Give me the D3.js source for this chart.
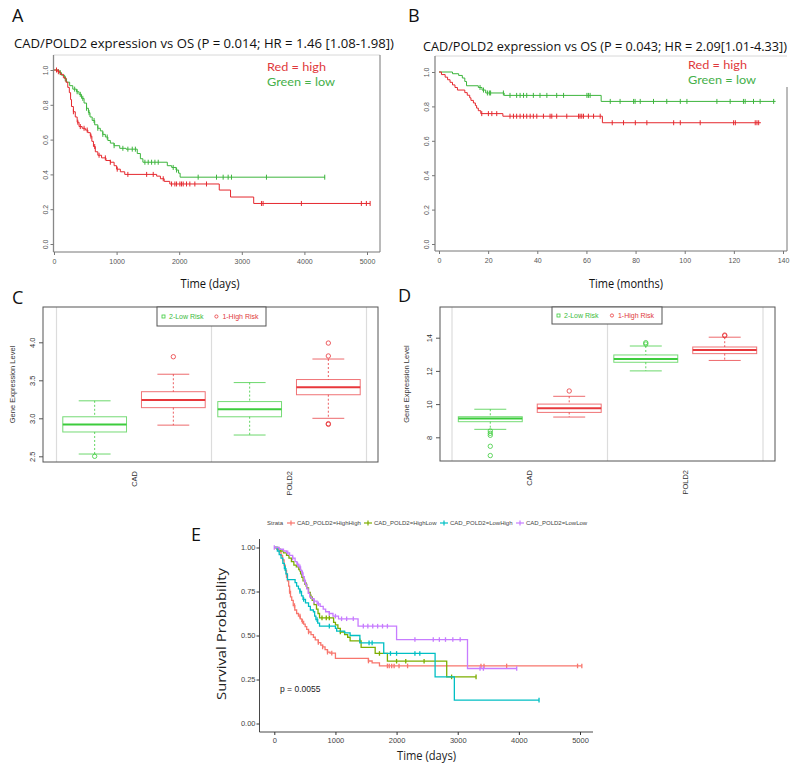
<!DOCTYPE html>
<html><head><meta charset="utf-8">
<script src="https://cdn.jsdelivr.net/npm/d3@7"></script>
<style>body{margin:0;background:#fff}svg{display:block}</style>
</head><body>
<svg id="c" width="800" height="774"></svg>
<script>
// ---------------- DATA ----------------
// Panel A: Kaplan-Meier, time in days: [time, survival after step]
const aHighSteps = [[0,1],[60,0.99],[100,0.975],[150,0.955],[190,0.93],[220,0.9],[245,0.87],[265,0.83],[280,0.79],[310,0.76],[340,0.73],[370,0.7],[400,0.675],[450,0.665],[500,0.655],[540,0.64],[580,0.62],[605,0.59],[630,0.56],[660,0.53],[700,0.51],[760,0.495],[830,0.48],[900,0.47],[960,0.45],[1000,0.43],[1060,0.415],[1130,0.40],[1640,0.39],[1700,0.375],[1760,0.36],[1850,0.345],[2640,0.31],[2820,0.27],[3190,0.233]];
const aHighEnd = 5050;
const aHighCensor = [40,70,310,380,420,480,530,590,650,720,820,900,1010,1180,1480,1585,1745,1878,1931,1958,2011,2037,2064,2117,2170,2250,2436,3314,3340,3952,4910,4990,5050];
const aLowSteps = [[0,1],[80,0.985],[120,0.97],[170,0.95],[200,0.93],[250,0.91],[300,0.89],[360,0.875],[400,0.86],[440,0.837],[480,0.81],[520,0.78],[550,0.755],[575,0.73],[610,0.71],[650,0.685],[700,0.665],[740,0.65],[780,0.63],[820,0.615],[860,0.595],[900,0.58],[960,0.565],[1050,0.55],[1150,0.545],[1330,0.52],[1380,0.49],[1420,0.47],[1810,0.45],[1880,0.44],[1950,0.425],[1990,0.407],[2015,0.384]];
const aLowEnd = 4330;
const aLowCensor = [100,180,330,370,420,460,520,560,640,700,780,850,960,1100,1180,1250,1300,1452,1505,1559,1612,1665,1904,1958,2303,2596,2702,2782,2835,3394,4325];
const aXTicks = [0,1000,2000,3000,4000,5000];
const survTicks = [0,0.2,0.4,0.6,0.8,1.0];

// Panel B: time in months
const bHighSteps = [[0,1],[1,0.985],[2.5,0.97],[3.5,0.955],[4.5,0.94],[5.5,0.925],[6.5,0.91],[7.5,0.895],[10.5,0.88],[11.5,0.865],[12.5,0.85],[13,0.835],[14,0.82],[14.8,0.805],[15.3,0.79],[16,0.775],[17,0.758],[26,0.743],[66.5,0.705]];
const bHighEnd = 131;
const bHighCensor = [17.4,20.1,21.5,23.5,28.9,30.3,31.6,33,34.4,35.7,37.1,38.4,39.8,42.5,45.2,45.9,47.9,52,56.8,57.4,58.1,58.8,60.8,62.9,65.6,70.5,75.1,79.9,84.6,95.5,98.2,106.3,119.9,120.6,128.7,129.4,130.1];
const bLowSteps = [[0,1],[5.5,0.99],[8,0.98],[9.5,0.965],[10.5,0.945],[11.2,0.92],[16,0.91],[17.5,0.895],[19,0.878],[26.5,0.864],[66,0.829]];
const bLowEnd = 137;
const bLowCensor = [16.7,18.1,19.7,20.5,21,26.2,28.9,31.6,33,34.4,35.7,38.4,41.1,43.9,47.9,50.7,60.2,60.8,61.5,69.7,73.7,79.2,79.8,81.9,87.3,92.7,98.2,100.9,113.1,118.5,123.9,124.6,128,130.7,136.2];
const bXTicks = [0,20,40,60,80,100,120,140];

// Panels C and D: boxplots
const genes = ["CAD","POLD2"];
const riskGroups = ["2-Low Risk","1-High Risk"];
const cLow  = [{min:2.53,q1:2.82,med:2.92,q3:3.02,max:3.23,out:[2.50]},{min:2.78,q1:3.02,med:3.12,q3:3.22,max:3.47,out:[]}];
const cHigh = [{min:2.91,q1:3.14,med:3.24,q3:3.35,max:3.58,out:[3.81]},{min:3.00,q1:3.31,med:3.41,q3:3.51,max:3.78,out:[3.99,3.82,2.92,2.93]}];
const cYTicks = [2.5,3.0,3.5,4.0];
const dLow  = [{min:8.48,q1:8.94,med:9.14,q3:9.24,max:9.69,out:[8.38,8.24,8.12,7.46,6.9]},{min:12.0,q1:12.52,med:12.72,q3:12.96,max:13.5,out:[13.7,13.62]}];
const dHigh = [{min:9.22,q1:9.5,med:9.75,q3:10.0,max:10.47,out:[10.79]},{min:12.63,q1:13.04,med:13.26,q3:13.44,max:14.03,out:[14.16,14.12]}];
const dYTicks = [8,10,12,14];

// Panel E: four strata
const eStrata = ["CAD_POLD2=HighHigh","CAD_POLD2=HighLow","CAD_POLD2=LowHigh","CAD_POLD2=LowLow"];
const eHHSteps = [[0,1],[40,0.99],[80,0.975],[110,0.955],[135,0.93],[160,0.9],[180,0.87],[200,0.84],[215,0.81],[235,0.78],[250,0.75],[265,0.72],[285,0.7],[310,0.67],[335,0.645],[365,0.625],[395,0.61],[425,0.595],[450,0.58],[480,0.565],[505,0.55],[530,0.535],[560,0.52],[600,0.505],[640,0.49],[670,0.475],[720,0.46],[760,0.445],[790,0.435],[830,0.42],[870,0.405],[910,0.4],[1000,0.37],[1540,0.355],[1600,0.345],[1720,0.327]];
const eHHEnd = 5030;
const eHHCensor = [200,250,330,420,460,560,720,790,870,940,1540,1850,1880,1920,1960,2040,2180,3380,3430,3800,4960,5030];
const eHLSteps = [[0,1],[60,0.99],[100,0.98],[150,0.97],[200,0.955],[240,0.94],[280,0.92],[320,0.9],[360,0.89],[400,0.875],[430,0.85],[450,0.83],[470,0.81],[500,0.79],[530,0.77],[560,0.745],[590,0.72],[620,0.7],[650,0.675],[690,0.65],[715,0.625],[740,0.6],[970,0.575],[1000,0.56],[1040,0.54],[1080,0.52],[1150,0.505],[1200,0.49],[1240,0.47],[1420,0.432],[1650,0.398],[1850,0.354],[2820,0.265]];
const eHLEnd = 3300;
const eHLCensor = [420,520,600,780,850,900,1080,1400,1720,2000,2150,2450,2900,3300];
const eLHSteps = [[0,1],[50,0.98],[80,0.96],[110,0.94],[140,0.91],[165,0.88],[190,0.85],[215,0.817],[340,0.8],[365,0.78],[395,0.765],[420,0.75],[445,0.725],[470,0.705],[510,0.685],[560,0.665],[590,0.645],[640,0.635],[660,0.61],[680,0.59],[710,0.57],[740,0.553],[1000,0.54],[1020,0.525],[1150,0.515],[1240,0.5],[1400,0.458],[1790,0.398],[2630,0.265],[2945,0.133]];
const eLHEnd = 4330;
const eLHCensor = [180,420,480,700,900,1550,1600,1900,2000,2300,2380,4330];
const eLLSteps = [[0,1],[80,0.99],[150,0.98],[200,0.97],[250,0.955],[300,0.94],[340,0.92],[370,0.905],[400,0.89],[430,0.87],[450,0.855],[470,0.835],[490,0.81],[510,0.79],[530,0.765],[555,0.74],[580,0.72],[610,0.71],[650,0.695],[700,0.68],[750,0.665],[800,0.65],[840,0.635],[900,0.625],[960,0.61],[1050,0.595],[1370,0.553],[2000,0.477],[3160,0.3125]];
const eLLEnd = 3970;
const eLLCensor = [0,220,300,380,420,460,500,650,720,900,1000,1100,1183,1292,1456,1530,1610,1690,1770,1850,2300,2600,2700,2800,2920,3040,3365,3420,3965];
const eXTicks = [0,1000,2000,3000,4000,5000];
const eYTicks = [0,0.25,0.5,0.75,1.0];

// ---------------- DRAWING ----------------
const svg = d3.select("#c");
const RED = "#e5282e", GREEN = "#3db53d";
const TITLE_FONT = "'Open Sans', Lato, sans-serif";
const LEG_FONT = "Lato, 'Open Sans', sans-serif";
const TICK_FONT = "'Liberation Sans', Arial, sans-serif";
const E_COLORS = ["#F8766D","#7CAE00","#00BFC4","#C77CFF"];

function survAt(steps, t){ let s = steps[0][1]; for (const [tt,ss] of steps){ if (tt <= t) s = ss; else break; } return s; }
function drawKM(xs, ys, steps, end, censor, color, sw, tk){
  const pts = steps.concat([[end, steps[steps.length-1][1]]]);
  const line = d3.line().x(d=>xs(d[0])).y(d=>ys(d[1])).curve(d3.curveStepAfter);
  svg.append("path").attr("d", line(pts)).attr("fill","none").attr("stroke",color).attr("stroke-width",sw);
  const g = svg.append("g");
  censor.forEach(t=>{
    const cx = xs(t), cy = ys(survAt(steps,t));
    g.append("line").attr("x1",cx).attr("x2",cx).attr("y1",cy-tk).attr("y2",cy+tk).attr("stroke",color).attr("stroke-width",sw);
  });
}
function txt(x,y,s,o){
  const t = svg.append("text").attr("x",x).attr("y",y).text(s);
  Object.entries(o||{}).forEach(([k,v])=>t.attr(k,v));
  return t;
}
function panelLetter(x,y,s){ txt(x,y,s,{"font-family":"'Open Sans', Lato, sans-serif","font-size":18,"fill":"#111"}); }

// ---- KM panel (A / B) ----
function kmPanel(cfg){
  const xs = d3.scaleLinear().domain(cfg.xDom).range(cfg.xRange);
  const ys = d3.scaleLinear().domain([0,1]).range([cfg.y0, cfg.y1]);
  const f = cfg.frame;
  svg.append("line").attr("x1",f.l).attr("x2",f.r).attr("y1",f.t).attr("y2",f.t).attr("stroke","#d8d8d8");
  svg.append("line").attr("x1",f.r).attr("x2",f.r).attr("y1",f.rt).attr("y2",f.b).attr("stroke","#777");
  const ax = svg.append("g").attr("transform",`translate(0,${f.b})`)
    .call(d3.axisBottom(xs).tickValues(cfg.xTicks).tickSize(3).tickSizeOuter(0).tickFormat(d3.format("d")));
  ax.select(".domain").attr("d",`M${f.l},0H${f.r}`).attr("stroke","#777");
  ax.selectAll(".tick line").attr("stroke","#777");
  ax.selectAll("text").attr("font-family",TICK_FONT).attr("font-size",7).attr("fill","#555").attr("y",7);
  const ay = svg.append("g").attr("transform",`translate(${f.l},0)`)
    .call(d3.axisLeft(ys).tickValues(survTicks).tickSize(3).tickSizeOuter(0).tickFormat(d3.format(".1f")));
  ay.select(".domain").attr("d",`M0,${f.t}V${f.b}`).attr("stroke","#888").attr("stroke-width",1.3);
  ay.selectAll(".tick line").attr("stroke","#777");
  ay.selectAll("text").attr("font-family",TICK_FONT).attr("font-size",7).attr("fill","#555")
    .attr("x",0).attr("dy",0).attr("text-anchor","middle").attr("transform","translate(-6,0) rotate(-90)");
  drawKM(xs, ys, cfg.low.steps, cfg.low.end, cfg.low.censor, GREEN, 1, 2.5);
  drawKM(xs, ys, cfg.high.steps, cfg.high.end, cfg.high.censor, RED, 1, 2.5);
  txt(cfg.titleX, cfg.titleY, cfg.title, {"font-family":TITLE_FONT,"font-size":13,"fill":"#111","text-anchor":"middle","textLength":cfg.titleLen,"lengthAdjust":"spacingAndGlyphs"});
  txt(cfg.legX, cfg.legY, "Red = high", {"font-family":LEG_FONT,"font-size":11.5,"fill":"#e0393c","textLength":59,"lengthAdjust":"spacingAndGlyphs"});
  txt(cfg.legX, cfg.legY+14.5, "Green = low", {"font-family":LEG_FONT,"font-size":11.5,"fill":"#45b04a","textLength":68,"lengthAdjust":"spacingAndGlyphs"});
  txt(cfg.xlabX, 288, cfg.xlab, {"font-family":TITLE_FONT,"font-size":12.5,"fill":"#111","text-anchor":"middle","textLength":cfg.xlabLen,"lengthAdjust":"spacingAndGlyphs"});
}

kmPanel({xDom:[0,5000], xRange:[54,367], y0:244, y1:70, xTicks:aXTicks,
  frame:{l:53.5,r:380,t:55,b:252,rt:55},
  low:{steps:aLowSteps,end:aLowEnd,censor:aLowCensor}, high:{steps:aHighSteps,end:aHighEnd,censor:aHighCensor},
  title:"CAD/POLD2 expression vs OS (P = 0.014; HR = 1.46 [1.08-1.98])", titleX:204, titleY:48, titleLen:380,
  legX:267, legY:71, xlab:"Time (days)", xlabX:210, xlabLen:59});
kmPanel({xDom:[0,140], xRange:[439,783], y0:244, y1:72, xTicks:bXTicks,
  frame:{l:435,r:787,t:56,b:251,rt:87},
  low:{steps:bLowSteps,end:bLowEnd,censor:bLowCensor}, high:{steps:bHighSteps,end:bHighEnd,censor:bHighCensor},
  title:"CAD/POLD2 expression vs OS (P = 0.043; HR = 2.09[1.01-4.33])", titleX:605, titleY:51, titleLen:364,
  legX:688, legY:69, xlab:"Time (months)", xlabX:626, xlabLen:74});
panelLetter(12, 22, "A");
panelLetter(408, 22, "B");

// ---- Boxplot panel (C / D) ----
const GREEN_BOX = "#3ccc3c", RED_BOX = "#e8383c";
function boxPanel(cfg){
  const xs = d3.scaleBand().domain(genes).range([cfg.gl, cfg.gr]).padding(0);
  const inner = d3.scaleBand().domain(riskGroups).range([0, xs.bandwidth()]).paddingInner(0.19).paddingOuter(0.08);
  const ys = d3.scaleLinear().domain(cfg.yDom).range(cfg.yRange);
  [cfg.gl, xs("POLD2"), cfg.gr].forEach(v=>svg.append("line").attr("x1",v).attr("x2",v).attr("y1",cfg.t).attr("y2",cfg.b).attr("stroke","#dcdcdc").attr("stroke-width",1.2));
  const sets = [cfg.low, cfg.high], cols = [GREEN_BOX, RED_BOX];
  genes.forEach((gname, gi)=>{
    riskGroups.forEach((rg, ri)=>{
      const d = sets[ri][gi], col = cols[ri];
      const x0 = xs(gname) + inner(rg), bw = inner.bandwidth(), cx = x0 + bw/2;
      const g = svg.append("g");
      g.append("line").attr("x1",cx).attr("x2",cx).attr("y1",ys(d.max)).attr("y2",ys(d.q3)).attr("stroke",col).attr("stroke-dasharray","2,2").attr("opacity",0.8);
      g.append("line").attr("x1",cx).attr("x2",cx).attr("y1",ys(d.q1)).attr("y2",ys(d.min)).attr("stroke",col).attr("stroke-dasharray","2,2").attr("opacity",0.8);
      [d.max, d.min].forEach(v=>g.append("line").attr("x1",cx-bw/4).attr("x2",cx+bw/4).attr("y1",ys(v)).attr("y2",ys(v)).attr("stroke",col).attr("opacity",0.75));
      g.append("rect").attr("x",x0).attr("y",ys(d.q3)).attr("width",bw).attr("height",ys(d.q1)-ys(d.q3)).attr("fill","none").attr("stroke",col).attr("opacity",0.7);
      g.append("line").attr("x1",x0).attr("x2",x0+bw).attr("y1",ys(d.med)).attr("y2",ys(d.med)).attr("stroke",col).attr("stroke-width",2);
      d.out.forEach(v=>g.append("circle").attr("cx",cx).attr("cy",ys(v)).attr("r",2.2).attr("fill","none").attr("stroke",col).attr("opacity",0.8));
    });
    const lx = xs(gname) + xs.bandwidth()/2;
    svg.append("text").attr("transform",`translate(${lx+2.5},${cfg.b+9}) rotate(-90)`).attr("text-anchor","end")
      .attr("font-family",TICK_FONT).attr("font-size",7.5).attr("fill","#333").text(gname);
  });
  svg.append("rect").attr("x",cfg.l).attr("y",cfg.t).attr("width",cfg.r-cfg.l).attr("height",cfg.b-cfg.t).attr("fill","none").attr("stroke","#555");
  const ay = svg.append("g").attr("transform",`translate(${cfg.l},0)`)
    .call(d3.axisLeft(ys).tickValues(cfg.yTicks).tickSize(4).tickFormat(cfg.fmt));
  ay.select(".domain").remove();
  ay.selectAll(".tick line").attr("stroke","#555");
  ay.selectAll("text").attr("font-family",TICK_FONT).attr("font-size",7.5).attr("fill","#333")
    .attr("x",0).attr("dy",0).attr("text-anchor","middle").attr("transform","translate(-8,0) rotate(-90)");
  svg.append("text").attr("transform",`translate(${cfg.ylabX},${(cfg.t+cfg.b)/2}) rotate(-90)`).attr("text-anchor","middle")
    .attr("font-family",TICK_FONT).attr("font-size",7.5).attr("fill","#333").text("Gene Expression Level");
  const lg = cfg.leg;
  svg.append("rect").attr("x",lg.x).attr("y",cfg.t).attr("width",lg.w).attr("height",lg.h).attr("fill","#fff").attr("stroke","#555");
  const ly = cfg.t + lg.h/2;
  svg.append("rect").attr("x",lg.x+5).attr("y",ly-1.5).attr("width",3).attr("height",3).attr("fill","none").attr("stroke",GREEN_BOX).attr("stroke-width",0.8);
  txt(lg.x+12, ly+2.5, riskGroups[0], {"font-family":TICK_FONT,"font-size":7,"fill":"#3cba3c"});
  svg.append("circle").attr("cx",lg.x+lg.w*0.545).attr("cy",ly).attr("r",1.6).attr("fill","none").attr("stroke",RED_BOX).attr("stroke-width",0.8);
  txt(lg.x+lg.w*0.545+6, ly+2.5, riskGroups[1], {"font-family":TICK_FONT,"font-size":7,"fill":"#e0393c"});
}
boxPanel({l:43,r:378,t:307,b:462,gl:56.5,gr:366.5,yDom:[2.5,4.0],yRange:[456.3,342.3],yTicks:cYTicks,fmt:d3.format(".1f"),
  low:cLow,high:cHigh,ylabX:15,leg:{x:157,w:109,h:19}});
boxPanel({l:440,r:775,t:307,b:461,gl:452,gr:763,yDom:[8,14],yRange:[437.3,337.7],yTicks:dYTicks,fmt:d3.format("d"),
  low:dLow,high:dHigh,ylabX:409,leg:{x:552,w:110,h:17}});
panelLetter(12, 304, "C");
panelLetter(398, 302, "D");

// ---- Panel E ----
(function(){
  const xs = d3.scaleLinear().domain([0,5000]).range([274.3,580]);
  const ys = d3.scaleLinear().domain([0,1]).range([723.5,547.5]);
  const ax = svg.append("g").attr("transform","translate(0,732)")
    .call(d3.axisBottom(xs).tickValues(eXTicks).tickSize(3).tickSizeOuter(0).tickFormat(d3.format("d")));
  ax.select(".domain").attr("d","M259.5,0H593").attr("stroke","#333").attr("stroke-width",0.9);
  ax.selectAll(".tick line").attr("stroke","#333");
  ax.selectAll("text").attr("font-family",TICK_FONT).attr("font-size",7.5).attr("fill","#444").attr("y",6);
  const ay = svg.append("g").attr("transform","translate(259.5,0)")
    .call(d3.axisLeft(ys).tickValues(eYTicks).tickSize(3).tickSizeOuter(0).tickFormat(d3.format(".2f")));
  ay.select(".domain").attr("d","M0,539V732").attr("stroke","#333").attr("stroke-width",0.9);
  ay.selectAll(".tick line").attr("stroke","#333");
  ay.selectAll("text").attr("font-family",TICK_FONT).attr("font-size",7.5).attr("fill","#444").attr("x",-4);
  const curves = [[eHHSteps,eHHEnd,eHHCensor],[eHLSteps,eHLEnd,eHLCensor],[eLHSteps,eLHEnd,eLHCensor],[eLLSteps,eLLEnd,eLLCensor]];
  curves.forEach((c,i)=>drawKM(xs, ys, c[0], c[1], c[2], E_COLORS[i], 1.3, 2.3));
  txt(280, 692, "p = 0.0055", {"font-family":TICK_FONT,"font-size":8.5,"fill":"#222"});
  svg.append("text").attr("transform","translate(226,634) rotate(-90)").attr("text-anchor","middle")
    .attr("font-family",TITLE_FONT).attr("font-size",12.5).attr("fill","#222").attr("textLength",132).attr("lengthAdjust","spacingAndGlyphs").text("Survival Probability");
  txt(426.5, 760, "Time (days)", {"font-family":TITLE_FONT,"font-size":12.5,"fill":"#222","text-anchor":"middle","textLength":59,"lengthAdjust":"spacingAndGlyphs"});
  const ly = 523;
  txt(267, ly+2, "Strata", {"font-family":TICK_FONT,"font-size":6,"fill":"#444"});
  const legX = [287, 364, 440, 516];
  eStrata.forEach((s,i)=>{
    svg.append("line").attr("x1",legX[i]).attr("x2",legX[i]+8).attr("y1",ly).attr("y2",ly).attr("stroke",E_COLORS[i]).attr("stroke-width",1.2);
    svg.append("line").attr("x1",legX[i]+4).attr("x2",legX[i]+4).attr("y1",ly-2.5).attr("y2",ly+2.5).attr("stroke",E_COLORS[i]).attr("stroke-width",1.2);
    txt(legX[i]+10, ly+2, s, {"font-family":TICK_FONT,"font-size":6,"fill":"#444"});
  });
  panelLetter(191, 541, "E");
})();
</script></body></html>
